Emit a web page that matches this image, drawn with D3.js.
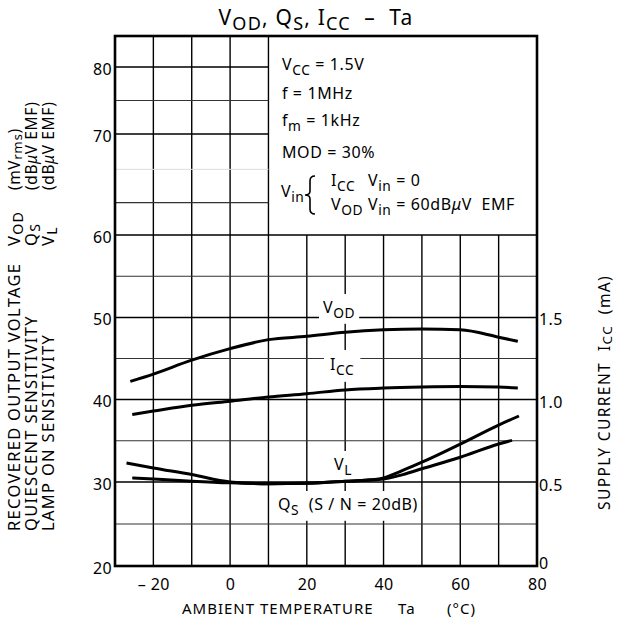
<!DOCTYPE html>
<html>
<head>
<meta charset="utf-8">
<script src="https://cdn.jsdelivr.net/npm/d3@7"></script>
<style>
  body { margin: 0; background: #fff; }
  svg { display: block; font-family: "Noto Sans", "DejaVu Sans", sans-serif; }
  .grid line { stroke: #000; stroke-width: 1.4; }
  .grid line.minor { stroke: #333; stroke-width: 1.2; }
  .grid line.faint { stroke: #ddd; stroke-width: 1; }
  .curve { fill: none; stroke: #000; stroke-width: 3; stroke-linecap: butt; }
</style>
</head>
<body>
<div id="chart"></div>
<script>
// ---- data ----
var tempVod = [-26, -20, -10, 0, 10, 20, 30, 40, 50, 60, 70, 75];
var vod     = [42.2, 43.1, 44.8, 46.2, 47.3, 47.7, 48.2, 48.5, 48.6, 48.5, 47.6, 47.1];

var tempIcc = [-25.5, -20, -10, 0, 10, 20, 30, 40, 50, 60, 70, 75];
var icc     = [0.915, 0.935, 0.97, 0.995, 1.02, 1.04, 1.063, 1.074, 1.08, 1.083, 1.08, 1.075];

var tempVl  = [-27, -20, -10, 0, 10, 20, 30, 35, 40, 45, 50, 60, 70, 75.3];
var vl      = [32.3, 31.7, 30.9, 30.0, 29.8, 29.85, 30.1, 30.2, 30.5, 31.4, 32.4, 34.6, 36.9, 38.0];

var tempQs  = [-25.5, -20, -10, 0, 10, 20, 30, 40, 45, 50, 60, 70, 73.5];
var qs      = [30.5, 30.36, 30.1, 29.9, 29.8, 29.85, 30.1, 30.36, 30.9, 31.6, 33.0, 34.6, 35.05];

var xTicks = [-20, 0, 20, 40, 60, 80];
var xGrid = [-20, -10, 0, 10, 20, 30, 40, 50, 60, 70];
var yTicks = [20, 30, 40, 50, 60, 70, 80];
var yGridLower = [25, 30, 35, 40, 45, 50, 55, 60];
var yGridUpper = [63.2, 70, 75, 80];
var yGridFaint = [66.5];
var iccTicks = [0, 0.5, 1.0, 1.5];

// ---- layout ----
var width = 617, height = 632;
var mLeft = 115, mRight = 537, mTop = 36, mBottom = 566;

var svg = d3.select('#chart').append('svg')
    .attr('width', width)
    .attr('height', height);

var x = d3.scaleLinear().domain([-30, 80]).range([mLeft, mRight]);
// the left scale is not uniform above 60, so it is piecewise
var y = d3.scaleLinear()
    .domain([20, 30, 40, 50, 60, 70, 80])
    .range([mBottom, 482, 399.5, 317.5, 235, 134, 67]);
var yIcc = d3.scaleLinear().domain([0, 1.5]).range([y(20), y(50)]);

// text with subscripts: parts are [string, isSub]
function rich(sel, parts, size, k) {
  var shift = size * (k || 0.3);
  parts.forEach(function(p, i) {
    var prevSub = i > 0 && parts[i - 1][1];
    var t = sel.append('tspan').text(p[0]);
    if (p[1]) {
      t.attr('font-size', size * 0.86);
      if (!prevSub) t.attr('dy', shift);
    } else if (prevSub) {
      t.attr('dy', -shift);
    }
  });
  return sel;
}

// ---- grid ----
var grid = svg.append('g').attr('class', 'grid');
var xSplit = 10; // the note box covers the upper right part

grid.selectAll('line.v').data(xGrid).enter().append('line')
    .attr('x1', function(d) { return x(d); })
    .attr('x2', function(d) { return x(d); })
    .attr('y1', function(d) { return d <= xSplit ? mTop : y(60); })
    .attr('y2', mBottom);

grid.selectAll('line.hl').data(yGridLower).enter().append('line')
    .attr('class', function(d) { return d % 10 === 0 ? null : 'minor'; })
    .attr('x1', mLeft).attr('x2', mRight)
    .attr('y1', function(d) { return y(d); })
    .attr('y2', function(d) { return y(d); });

grid.selectAll('line.hu').data(yGridUpper).enter().append('line')
    .attr('class', function(d) { return d % 10 === 0 ? null : 'minor'; })
    .attr('x1', mLeft).attr('x2', x(xSplit))
    .attr('y1', function(d) { return y(d); })
    .attr('y2', function(d) { return y(d); });

grid.selectAll('line.hf').data(yGridFaint).enter().append('line')
    .attr('class', 'faint')
    .attr('x1', mLeft).attr('x2', x(xSplit))
    .attr('y1', function(d) { return y(d); })
    .attr('y2', function(d) { return y(d); });

// ---- frame ----
svg.append('rect')
    .attr('x', mLeft).attr('y', mTop)
    .attr('width', mRight - mLeft).attr('height', mBottom - mTop)
    .attr('fill', 'none').attr('stroke', '#000').attr('stroke-width', 2.6);

// ---- axes (labels only) ----
var yAxis = svg.append('g')
    .attr('transform', 'translate(' + (mLeft - 3) + ',0)')
    .call(d3.axisLeft(y).tickValues(yTicks).tickSize(0).tickPadding(0));
var xAxis = svg.append('g')
    .attr('transform', 'translate(0,' + mBottom + ')')
    .call(d3.axisBottom(x).tickValues(xTicks).tickSize(0).tickPadding(0)
      .tickFormat(function(d) { return d < 0 ? '\u2013 ' + (-d) : d; }));
var rAxis = svg.append('g')
    .attr('transform', 'translate(' + (mRight + 2) + ',0)')
    .call(d3.axisRight(yIcc).tickValues(iccTicks).tickSize(0).tickPadding(0)
      .tickFormat(function(d) { return d === 0 ? '0' : d3.format('.1f')(d); }));

[yAxis, xAxis, rAxis].forEach(function(a) {
  a.select('.domain').remove();
  a.selectAll('text')
      .attr('font-family', '"Noto Sans", "DejaVu Sans", sans-serif')
      .attr('font-size', 16).attr('letter-spacing', 0.4).attr('fill', '#000');
});
yAxis.selectAll('text').attr('dy', '0.45em');
rAxis.selectAll('text').attr('dy', function(d) { return d === 0 ? '0.15em' : '0.45em'; });
xAxis.selectAll('text').attr('dy', null).attr('y', 24);

// ---- curve labels with white backing ----
function label(parts, lx, ly, size, pad) {
  var g = svg.append('g');
  var t = g.append('text').attr('x', lx).attr('y', ly)
      .attr('font-size', size).attr('letter-spacing', 0.6)
      .attr('xml:space', 'preserve');
  rich(t, parts, size);
  var b = t.node().getBBox();
  g.insert('rect', 'text')
      .attr('x', b.x - pad[0]).attr('y', b.y - pad[1])
      .attr('width', b.width + 2 * pad[0]).attr('height', b.height + 2 * pad[1])
      .attr('fill', '#fff');
  return g;
}
label([['V', 0], ['OD', 1]], 323, 313, 16, [4, 2]);
label([['I', 0], ['CC', 1]], 330, 370, 16, [6, 3]);
label([['V', 0], ['L', 1]], 334, 470, 16, [3, 2]);
label([['Q', 0], ['S', 1], ['  (S / N = 20dB)', 0]], 278, 510, 16, [3, 2]);

// ---- curves ----
var line = d3.line().curve(d3.curveMonotoneX);
function draw(ts, vs, scale) {
  svg.append('path')
      .attr('class', 'curve')
      .attr('d', line(ts.map(function(t, i) { return [x(t), scale(vs[i])]; })));
}
draw(tempVod, vod, y);
draw(tempIcc, icc, yIcc);
draw(tempVl, vl, y);
draw(tempQs, qs, y);

// ---- conditions box ----
var ns = 16;
var notes = svg.append('g').attr('font-size', ns).attr('letter-spacing', 0.6);
rich(notes.append('text').attr('x', 282).attr('y', 70),
    [['V', 0], ['CC', 1], [' = 1.5V', 0]], ns);
rich(notes.append('text').attr('x', 282).attr('y', 99),
    [['f = 1MHz', 0]], ns);
rich(notes.append('text').attr('x', 282).attr('y', 126),
    [['f', 0], ['m', 1], [' = 1kHz', 0]], ns);
rich(notes.append('text').attr('x', 282).attr('y', 158),
    [['MOD = 30%', 0]], ns);
rich(notes.append('text').attr('x', 281).attr('y', 197),
    [['V', 0], ['in', 1]], ns);
rich(notes.append('text').attr('x', 331).attr('y', 186),
    [['I', 0], ['CC', 1]], ns);
rich(notes.append('text').attr('x', 368).attr('y', 186),
    [['V', 0], ['in', 1], [' = 0', 0]], ns);
rich(notes.append('text').attr('x', 331).attr('y', 210),
    [['V', 0], ['OD', 1]], ns);
var emf = notes.append('text').attr('x', 368).attr('y', 210).attr('xml:space', 'preserve');
rich(emf, [['V', 0], ['in', 1], [' = 60dB', 0]], ns);
emf.append('tspan').attr('font-style', 'italic').text('\u03bc');
emf.append('tspan').text('V  EMF');

// brace
var bx = 311, by0 = 176, by1 = 214, bm = (by0 + by1) / 2;
notes.append('path')
    .attr('d', 'M' + (bx + 4) + ',' + by0 + ' Q' + (bx - 1) + ',' + by0 + ' ' + (bx - 1) + ',' + (by0 + 5) +
      ' L' + (bx - 1) + ',' + (bm - 4) + ' Q' + (bx - 1) + ',' + bm + ' ' + (bx - 6) + ',' + bm +
      ' Q' + (bx - 1) + ',' + bm + ' ' + (bx - 1) + ',' + (bm + 4) +
      ' L' + (bx - 1) + ',' + (by1 - 5) + ' Q' + (bx - 1) + ',' + by1 + ' ' + (bx + 4) + ',' + by1)
    .attr('fill', 'none').attr('stroke', '#000').attr('stroke-width', 1.6);

// ---- title ----
var title = svg.append('text')
    .attr('x', 316).attr('y', 25)
    .attr('text-anchor', 'middle')
    .attr('font-size', 21)
    .attr('letter-spacing', 1.2)
    .attr('xml:space', 'preserve');
rich(title, [['V', 0], ['OD', 1], [', Q', 0], ['S', 1], [', I', 0], ['CC', 1], ['  \u2013  Ta', 0]], 21, 0.25);

// ---- axis titles ----
var xt = svg.append('g').attr('font-size', 15).attr('letter-spacing', 1);
xt.append('text').attr('x', 182).attr('y', 614).text('AMBIENT TEMPERATURE');
xt.append('text').attr('x', 398).attr('y', 614).text('Ta');
xt.append('text').attr('x', 447).attr('y', 614).text('(\u00b0C)');

// left: three quantities
var leftLines = [
  { x: 20, name: [['V', 0], ['OD', 1]], unit: [['(mV', 0], ['rms', 1], [')', 0]], desc: 'RECOVERED OUTPUT VOLTAGE' },
  { x: 37, name: [['Q', 0], ['S', 1]], unit: null, desc: 'QUIESCENT SENSITIVITY' },
  { x: 54, name: [['V', 0], ['L', 1]], unit: null, desc: 'LAMP ON SENSITIVITY' }
];
leftLines.forEach(function(d) {
  var g = svg.append('g')
      .attr('transform', 'translate(' + d.x + ',0) rotate(-90)')
      .attr('font-size', 16.5)
      .attr('letter-spacing', 1.3);
  g.append('text').attr('x', -531).attr('y', 0).text(d.desc);
  rich(g.append('text').attr('x', -246).attr('y', 0), d.name, 16.5, 0.2);
  var u = g.append('text').attr('x', -190).attr('y', 0).attr('font-size', 15.5).attr('letter-spacing', 0.6);
  if (d.unit) {
    rich(u, d.unit, 15.5, 0.15);
  } else {
    u.append('tspan').text('(dB');
    u.append('tspan').attr('font-style', 'italic').text('\u03bc');
    u.append('tspan').text('V EMF)');
  }
});

// right axis title
var rt = svg.append('text')
    .attr('transform', 'translate(610,0) rotate(-90)')
    .attr('x', -510).attr('y', 0)
    .attr('font-size', 15.5)
    .attr('letter-spacing', 1.4)
    .attr('xml:space', 'preserve');
rich(rt, [['SUPPLY CURRENT  I', 0], ['CC', 1], ['  (mA)', 0]], 15.5, 0.15);
</script>
</body>
</html>
